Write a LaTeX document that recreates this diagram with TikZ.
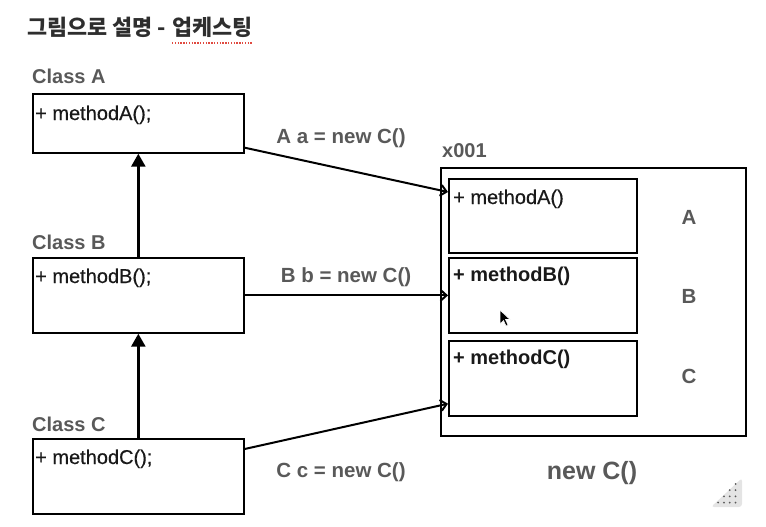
\documentclass[tikz,border=0pt]{standalone}
\usepackage{fontspec}
\setmainfont{Liberation Sans}
\newfontfamily\medfont[FakeBold=0.4]{Liberation Sans}
\newfontfamily\krfont{Noto Sans CJK KR}
\usetikzlibrary{arrows.meta,positioning}
\definecolor{labelgray}{HTML}{595959}
\definecolor{titlegray}{HTML}{2E2E2E}
\definecolor{markred}{HTML}{E04A40}
\definecolor{icongray}{HTML}{E4E4E4}

\begin{document}
\begin{tikzpicture}[
	x=1pt, y=-1pt,
	box/.style={draw, line width=1.7pt, minimum width=211pt, anchor=north west, inner sep=0pt},
	inbox/.style={draw, line width=1.7pt, minimum width=188pt, minimum height=75pt, anchor=north west, inner sep=0pt},
	cname/.style={font=\fontsize{20}{24}\selectfont\bfseries, text=labelgray, inner sep=0pt, anchor=base west},
	tag/.style={font=\fontsize{20.5}{24}\selectfont\bfseries, text=labelgray, inner sep=0pt},
	meth/.style={font=\fontsize{20}{24}\selectfont\medfont, text=black!90, inner sep=0pt, anchor=base west},
	bmeth/.style={meth, font=\fontsize{20}{24}\selectfont\bfseries},
	up/.style={line width=2.6pt, -{Triangle[length=13pt,width=14pt]}},
	ref/.style={line width=2pt, -{Straight Barb[length=6pt,width=11pt,line width=2pt]}}
]
\useasboundingbox (0,0) rectangle (766,527);
% title
\node[font=\fontsize{21.8}{24}\selectfont\krfont\bfseries, text=titlegray, inner sep=0pt, anchor=base west] (title) at (27,36) {그림으로 설명 -};
\node[font=\fontsize{21.8}{24}\selectfont\krfont\bfseries, text=titlegray, inner sep=0pt, base right=6pt of title] (upcast) {업케스팅};
\draw[markred, line width=1.3pt, dash pattern=on 1.3pt off 1.5pt] ([yshift=-7pt]upcast.base west) -- ([yshift=-7pt]upcast.base east);

% classes
\node[box, minimum height=59pt] (boxA) at (32,93) {};
\node[box, minimum height=75pt] (boxB) at (32,257) {};
\node[box, minimum height=75pt] (boxC) at (32,438) {};
\node[cname] (nameA) at ([yshift=9pt]boxA.north west) {Class A};
\node[cname] (nameB) at ([yshift=8pt]boxB.north west) {Class B};
\node[cname] (nameC) at ([yshift=7pt]boxC.north west) {Class C};
\node[meth] (mA) at ([xshift=3pt,yshift=-27pt]boxA.north west) {+ methodA();};
\node[meth] (mB) at ([xshift=3pt,yshift=-26pt]boxB.north west) {+ methodB();};
\node[meth] (mC) at ([xshift=3pt,yshift=-26pt]boxC.north west) {+ methodC();};
\draw[up] (boxB.north) -- (boxA.south);
\draw[up] (boxC.north) -- (boxB.south);

% instance
\node[draw, line width=1.7pt, minimum width=305pt, minimum height=268pt, anchor=north west, inner sep=0pt] (obj) at (440,167) {};
\node[cname] (addr) at (442,157) {x001};
\node[inbox, minimum height=74pt] (inA) at (448,178) {};
\node[inbox] (inB) at (448,257) {};
\node[inbox] (inC) at (448,340) {};
\node[meth] (iA) at ([xshift=5pt,yshift=-26pt]inA.north west) {+ methodA()};
\node[bmeth] (iB) at ([xshift=5pt,yshift=-24pt]inB.north west) {+ methodB()};
\node[bmeth] (iC) at ([xshift=5pt,yshift=-24pt]inC.north west) {+ methodC()};
\node[tag] (tA) at (689,217) {A};
\node[tag] (tB) at (689,296) {B};
\node[tag] (tC) at (689,376) {C};
\node[tag, font=\fontsize{25}{28}\selectfont\bfseries] (newC) at (592,473) {new C()};

% references
\draw[ref] ([yshift=6pt]boxA.south east) -- ([yshift=-14pt]inA.north west);
\draw[ref] (boxB.east) -- (inB.west);
\draw[ref] ([yshift=-11pt]boxC.north east) -- ([yshift=13pt]inC.south west);
\node[tag] (refA) at (341,138) {A a = new C()};
\node[tag] (refB) at (346,277) {B b = new C()};
\node[tag] (refC) at (341,472) {C c = new C()};

% pointer and corner mark
\filldraw[fill=black, draw=white, line width=0.6pt] (500,310) -- (500,324) -- (503.5,320.5) -- (506,326) -- (508,325) -- (505.5,319.5) -- (510,319.5) -- cycle;
\fill[icongray, rounded corners=3pt] (711,507) -- (742,507) -- (742,478) -- cycle;
\foreach \r in {0,...,3}
	\foreach \c in {0,...,\r}
		\fill[labelgray] (735.5-5.8*\c,484+6.2*\r) circle (1pt);
\end{tikzpicture}
\end{document}
